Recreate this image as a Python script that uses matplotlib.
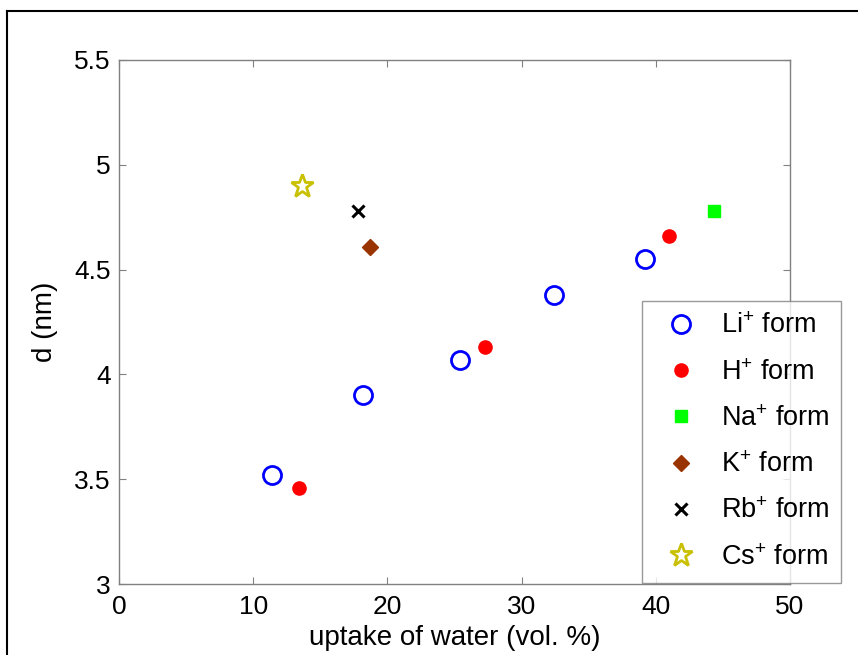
import matplotlib
matplotlib.use("Agg")
import matplotlib.pyplot as plt
from matplotlib.lines import Line2D

plt.rcParams["font.family"] = ["Liberation Sans", "DejaVu Sans"]
plt.rcParams["mathtext.fontset"] = "custom"
plt.rcParams["mathtext.rm"] = "Liberation Sans"
plt.rcParams["mathtext.it"] = "Liberation Sans"

# data
li_x = [11.4, 18.2, 25.4, 32.4, 39.2]
li_y = [3.52, 3.90, 4.07, 4.38, 4.55]
h_x = [13.4, 27.3, 41.0]
h_y = [3.46, 4.13, 4.66]
na_x, na_y = [44.3], [4.78]
k_x, k_y = [18.7], [4.61]
rb_x, rb_y = [17.8], [4.78]
cs_x, cs_y = [13.6], [4.90]

x_ticks = [0, 10, 20, 30, 40, 50]
y_ticks = [3, 3.5, 4, 4.5, 5, 5.5]
y_labels = ["3", "3.5", "4", "4.5", "5", "5.5"]

W, H = 858, 655
fig = plt.figure(figsize=(W / 100, H / 100), dpi=100)
ax = fig.add_axes([119 / W, 1 - 584 / H, (790 - 119) / W, (584 - 60) / H])

ax.plot(li_x, li_y, "o", ms=13, mfc="none", mec="#0000ff", mew=2, label=r"Li$^{+}$ form")
ax.plot(h_x, h_y, "o", ms=9.5, color="#ff0000", label=r"H$^{+}$ form")
ax.plot(na_x, na_y, "s", ms=9, color="#00ff00", label=r"Na$^{+}$ form")
ax.plot(k_x, k_y, "D", ms=8.5, color="#993300", label=r"K$^{+}$ form")
ax.plot(rb_x, rb_y, "x", ms=8, color="black", mew=2.2, label=r"Rb$^{+}$ form")
ax.plot(cs_x, cs_y, "*", ms=17, mfc="none", mec="#c8c000", mew=2, label=r"Cs$^{+}$ form")

ax.set_xlim(0, 50)
ax.set_ylim(3, 5.5)
ax.set_xticks(x_ticks)
ax.set_yticks(y_ticks)
ax.set_yticklabels(y_labels)
ax.tick_params(direction="in", top=True, right=True, labelsize=19, length=5,
               color="#808080", pad=6)
ax.tick_params(axis="x", pad=8)
for s in ax.spines.values():
    s.set_color("#808080")
    s.set_linewidth(1)

ax.set_xlabel("uptake of water (vol. %)", fontsize=20, labelpad=4)
ax.set_ylabel("d (nm)", fontsize=20, labelpad=12)

leg = ax.legend(loc="upper left", bbox_to_anchor=((642 - 119) / (790 - 119), (584 - 301) / 524),
                fontsize=19.5, frameon=True, fancybox=False, borderpad=0.45,
                labelspacing=0.75, handletextpad=0.45, handlelength=2.0,
                borderaxespad=0)
leg.get_frame().set_edgecolor("#808080")
leg.get_frame().set_linewidth(1)

# figure border (MATLAB-style frame)
fig.add_artist(Line2D([7 / W, 7 / W], [0, 1 - 11 / H], color="black", lw=1.5,
                      transform=fig.transFigure))
fig.add_artist(Line2D([7 / W, 1], [1 - 11 / H, 1 - 11 / H], color="black", lw=1.5,
                      transform=fig.transFigure))

fig.savefig("out.png", dpi=100)
